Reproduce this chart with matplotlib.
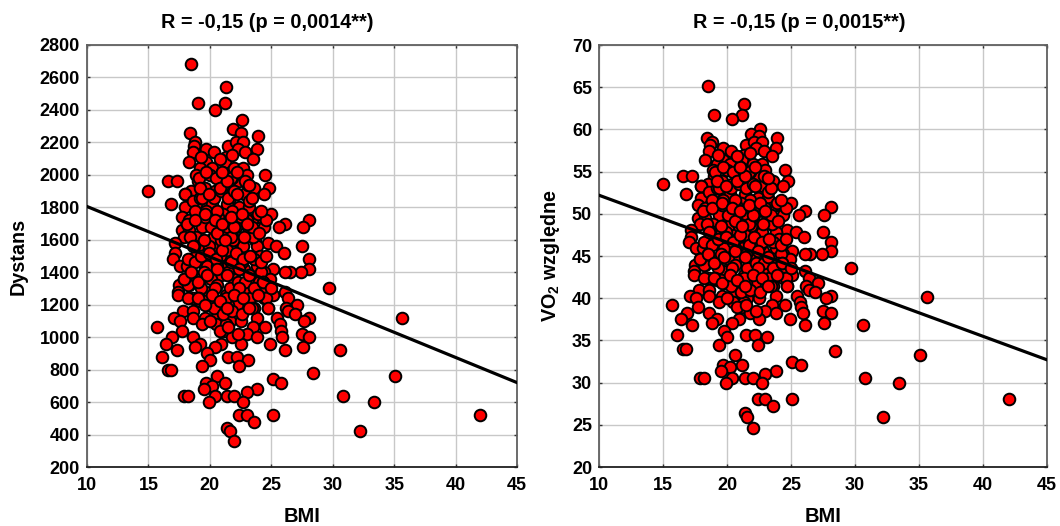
import matplotlib
matplotlib.use('Agg')
import matplotlib.pyplot as plt

plt.rcParams['font.family'] = ['Liberation Sans', 'DejaVu Sans']
plt.rcParams['font.weight'] = 'bold'
plt.rcParams['mathtext.fontset'] = 'custom'
plt.rcParams['mathtext.bf'] = 'Liberation Sans:bold'

# dane
bmi = [
    18.5, 21.3, 19.0, 21.2, 20.4, 22.6, 21.9, 22.5, 18.4, 23.9,
    18.8, 18.7, 18.6, 19.7, 20.3, 21.5, 22.1, 22.7, 22.3, 23.8,
    22.9, 23.5, 18.3, 21.3, 21.2, 19.7, 19.2, 20.2, 22.0, 22.7,
    24.5, 23.0, 18.9, 16.6, 17.3, 15.0, 19.0, 20.9, 22.4, 19.6,
    20.4, 18.5, 18.0, 23.6, 24.8, 24.4, 22.8, 21.6, 16.8, 19.6,
    18.0, 18.9, 20.2, 21.4, 22.4, 23.2, 21.8, 21.1, 18.9, 20.5,
    17.7, 25.0, 23.8, 23.4, 26.1, 25.6, 28.1, 27.6, 19.4, 21.3,
    24.4, 20.7, 17.7, 18.3, 17.9, 18.9, 20.0, 23.2, 23.7, 22.1,
    17.2, 24.7, 25.4, 26.0, 27.5, 28.1, 17.2, 20.7, 21.4, 22.7,
    23.8, 21.9, 17.0, 17.6, 18.4, 19.4, 19.9, 21.4, 22.3, 23.8,
    25.1, 28.1, 27.4, 26.5, 26.1, 24.4, 20.9, 18.7, 19.2, 20.1,
    22.0, 23.7, 24.9, 17.5, 18.3, 20.6, 19.7, 17.4, 17.4, 23.1,
    24.5, 25.1, 26.1, 26.4, 27.1, 18.6, 18.2, 21.3, 21.8, 23.3,
    24.4, 19.2, 19.8, 22.2, 21.5, 21.2, 23.6, 24.7, 26.2, 26.4,
    26.9, 17.8, 18.6, 17.1, 17.6, 18.6, 19.6, 20.5, 21.6, 22.5,
    23.8, 25.5, 25.7, 28.1, 27.7, 19.4, 20.5, 21.3, 15.7, 17.7,
    21.2, 23.5, 24.5, 25.8, 23.0, 25.9, 27.5, 28.1, 16.9, 18.6,
    21.8, 23.8, 16.4, 19.2, 20.9, 22.5, 24.9, 18.8, 20.4, 27.6,
    17.3, 26.1, 19.8, 16.1, 21.5, 22.2, 23.1, 20.0, 22.4, 19.4,
    16.6, 16.8, 28.4, 20.6, 25.1, 25.8, 19.7, 21.2, 20.2, 19.5,
    23.8, 23.0, 17.9, 18.2, 20.4, 21.4, 22.0, 19.9, 22.7, 22.4,
    23.0, 25.1, 23.6, 21.4, 21.6, 22.0, 29.7, 35.6, 30.6, 30.8,
    33.4, 32.2, 35.1, 42.0, 18.1, 18.9, 19.3, 19.8, 20.3, 20.8,
    21.2, 21.7, 22.2, 22.8, 23.3, 24.1, 18.5, 19.0, 19.5, 20.1,
    20.6, 21.0, 21.5, 22.1, 22.6, 23.1, 23.6, 24.2, 18.2, 18.7,
    19.3, 19.9, 20.4, 20.9, 21.6, 22.3, 22.9, 23.5, 24.0, 17.9,
    18.4, 19.1, 19.6, 20.2, 20.7, 21.3, 21.9, 22.4, 23.0, 23.6,
    24.3, 18.0, 18.6, 19.2, 19.7, 20.3, 20.9, 21.5, 22.0, 22.6,
    23.2, 23.9, 18.3, 18.8, 19.4, 20.0, 20.6, 21.1, 21.8, 22.5,
    23.1, 19.1, 19.7, 20.5, 21.0, 21.7, 22.2, 22.9, 23.4, 19.5,
    20.3, 21.1, 21.8, 22.6, 23.4, 20.0, 20.8, 21.5, 22.3, 24.6,
    18.2, 18.8, 19.3, 19.9, 20.5, 21.0, 21.7, 22.1, 22.7, 23.3,
    24.2, 24.6, 18.6, 19.5, 20.6, 21.2, 22.0, 22.8, 23.4, 24.0,
    18.1, 18.8, 19.6, 20.4, 21.0, 21.7, 22.6, 23.0, 24.6, 24.2,
    19.0, 19.6, 20.2, 20.8, 21.4, 22.0, 22.7, 23.2, 23.9, 24.7,
    17.9, 18.5, 19.0, 19.8, 20.6, 21.4, 22.4, 23.2, 24.3, 25.0,
    19.2, 19.9, 20.8, 21.4, 22.2, 23.2, 21.0, 20.8, 21.8, 19.3,
]
dystans = [
    2680, 2540, 2440, 2440, 2400, 2340, 2280, 2260, 2260, 2240,
    2200, 2180, 2140, 2160, 2140, 2180, 2200, 2200, 2160, 2160,
    2140, 2100, 2080, 2110, 2080, 2080, 2040, 2040, 2040, 2040,
    2000, 2000, 2000, 1960, 1960, 1900, 1960, 1960, 1960, 1920,
    1900, 1900, 1880, 1920, 1920, 1880, 1880, 1860, 1820, 1840,
    1800, 1820, 1820, 1820, 1800, 1800, 1780, 1760, 1760, 1760,
    1740, 1760, 1740, 1720, 1700, 1680, 1720, 1680, 1680, 1680,
    1680, 1680, 1660, 1660, 1620, 1620, 1600, 1640, 1600, 1600,
    1580, 1580, 1560, 1520, 1560, 1480, 1520, 1560, 1540, 1560,
    1560, 1600, 1480, 1440, 1480, 1460, 1500, 1540, 1480, 1440,
    1420, 1420, 1400, 1400, 1400, 1400, 1380, 1360, 1360, 1360,
    1360, 1360, 1360, 1320, 1320, 1320, 1280, 1280, 1260, 1280,
    1280, 1260, 1280, 1240, 1200, 1240, 1240, 1260, 1240, 1240,
    1240, 1220, 1200, 1200, 1200, 1160, 1180, 1180, 1180, 1160,
    1140, 1160, 1160, 1120, 1100, 1120, 1120, 1120, 1100, 1100,
    1120, 1120, 1080, 1120, 1100, 1080, 1080, 1080, 1060, 1040,
    1040, 1060, 1060, 1040, 1020, 1000, 1020, 1000, 1000, 1000,
    1000, 1000, 960, 960, 960, 960, 960, 940, 940, 940,
    920, 920, 900, 880, 880, 880, 860, 860, 820, 820,
    800, 800, 780, 760, 740, 720, 720, 720, 700, 680,
    680, 660, 640, 640, 640, 640, 640, 600, 600, 520,
    520, 520, 480, 440, 420, 360, 1300, 1120, 920, 640,
    600, 420, 760, 520, 1440, 1500, 1560, 1440, 1620, 1500,
    1440, 1620, 1500, 1420, 1640, 1500, 1400, 1560, 1400, 1680,
    1440, 1620, 1400, 1680, 1460, 1680, 1480, 1400, 1320, 1560,
    1300, 1560, 1300, 1600, 1300, 1340, 1340, 1620, 1340, 1360,
    1620, 1240, 1740, 1240, 1740, 1240, 1720, 1300, 1720, 1300,
    1340, 1880, 1840, 1860, 1780, 1860, 1900, 1860, 1900, 1740,
    1840, 1760, 1720, 1780, 1860, 2000, 1780, 1940, 1980, 1740,
    1940, 1980, 2020, 1980, 2020, 1980, 2020, 1960, 1860, 1220,
    1180, 1140, 1160, 1140, 1180, 1100, 1040, 1060, 1020, 1240,
    1480, 1460, 1500, 1520, 1480, 1540, 1460, 1520, 1480, 1500,
    1460, 1500, 1560, 1600, 1640, 1600, 1680, 1620, 1680, 1640,
    1700, 1720, 1760, 1720, 1700, 1740, 1760, 1700, 1720, 1780,
    1240, 1200, 1260, 1220, 1180, 1260, 1240, 1180, 1260, 1180,
    1360, 1400, 1340, 1380, 1420, 1380, 1420, 1380, 1340, 1300,
    1920, 1880, 1920, 1960, 1880, 1940, 2020, 2100, 2120, 2110,
]
vo2 = [
    65.1, 63.0, 61.7, 61.7, 61.2, 60.1, 59.5, 59.2, 59.0, 59.0,
    58.5, 58.1, 57.5, 57.8, 57.5, 58.1, 58.5, 58.5, 57.8, 57.8,
    57.5, 56.8, 56.4, 57.0, 56.4, 56.4, 55.9, 55.9, 55.9, 55.9,
    55.2, 55.2, 55.2, 54.5, 54.5, 53.5, 54.5, 54.5, 54.5, 53.9,
    53.5, 53.5, 53.3, 53.9, 53.9, 53.3, 53.3, 53.0, 52.3, 52.6,
    51.9, 52.3, 52.3, 52.3, 51.9, 51.9, 51.6, 51.3, 51.3, 51.3,
    51.0, 51.3, 51.0, 50.7, 50.3, 49.9, 50.8, 49.9, 49.9, 49.9,
    49.9, 49.9, 49.5, 49.5, 48.8, 48.8, 48.5, 49.1, 48.5, 48.5,
    48.1, 48.1, 47.8, 47.2, 47.8, 46.6, 47.2, 47.8, 47.5, 47.8,
    47.8, 48.5, 46.6, 46.0, 46.6, 46.3, 47.0, 47.5, 46.6, 46.0,
    45.6, 45.6, 45.2, 45.2, 45.2, 45.2, 44.9, 44.6, 44.6, 44.6,
    44.6, 44.6, 44.6, 43.9, 43.9, 43.9, 43.2, 43.2, 42.8, 43.2,
    43.2, 42.8, 43.2, 42.4, 41.8, 42.4, 42.4, 42.8, 42.4, 42.4,
    42.4, 42.1, 41.8, 41.8, 41.8, 41.0, 41.4, 41.4, 41.4, 41.0,
    40.7, 41.0, 41.0, 40.3, 40.0, 40.3, 40.3, 40.3, 40.0, 40.0,
    40.3, 40.3, 39.6, 40.3, 40.0, 39.6, 39.6, 39.6, 39.2, 39.0,
    39.0, 39.2, 39.2, 39.0, 38.5, 38.2, 38.5, 38.2, 38.2, 38.2,
    38.2, 38.2, 37.5, 37.5, 37.5, 37.5, 37.5, 37.1, 37.1, 37.1,
    36.8, 36.8, 36.1, 35.6, 35.6, 35.6, 35.4, 35.4, 34.4, 34.4,
    34.0, 34.0, 33.7, 33.3, 32.4, 32.1, 32.1, 32.1, 31.9, 31.4,
    31.4, 31.0, 30.6, 30.6, 30.6, 30.6, 30.6, 29.9, 29.9, 28.0,
    28.0, 28.0, 27.2, 26.4, 25.9, 24.6, 43.6, 40.2, 36.8, 30.6,
    29.9, 25.9, 33.3, 28.0, 46.0, 47.0, 47.8, 46.0, 48.8, 47.0,
    46.0, 48.8, 47.0, 45.6, 49.1, 47.0, 45.2, 47.8, 45.2, 49.9,
    46.0, 48.8, 45.2, 49.9, 46.3, 49.9, 46.6, 45.2, 43.9, 47.8,
    43.6, 47.8, 43.6, 48.5, 43.6, 44.2, 44.2, 48.8, 44.2, 44.6,
    48.8, 42.4, 51.0, 42.4, 51.0, 42.4, 50.7, 43.6, 50.7, 43.6,
    44.2, 53.3, 52.6, 53.0, 51.6, 53.0, 53.5, 53.0, 53.5, 51.0,
    52.6, 51.3, 50.7, 51.6, 53.0, 55.2, 51.6, 54.2, 54.9, 51.0,
    54.2, 54.9, 55.5, 54.9, 55.5, 54.9, 55.5, 54.5, 53.0, 42.1,
    41.4, 40.7, 41.0, 40.7, 41.4, 40.0, 39.0, 39.2, 38.5, 42.4,
    46.6, 46.3, 47.0, 47.2, 46.6, 47.5, 46.3, 47.2, 46.6, 47.0,
    46.3, 47.0, 47.8, 48.5, 49.1, 48.5, 49.9, 48.8, 49.9, 49.1,
    50.3, 50.7, 51.3, 50.7, 50.3, 51.0, 51.3, 50.3, 50.7, 51.6,
    42.4, 41.8, 42.8, 42.1, 41.4, 42.8, 42.4, 41.4, 42.8, 41.4,
    44.6, 45.2, 44.2, 44.9, 45.6, 44.9, 45.6, 44.9, 44.2, 43.6,
    53.9, 53.3, 53.9, 54.5, 53.3, 54.2, 55.5, 56.8, 57.2, 57.0,
]
fit_x = [10, 45]
fit_dystans = [1805, 720]
fit_vo2 = [52.2, 32.7]

x_ticks = [10, 15, 20, 25, 30, 35, 40, 45]
dystans_ticks = list(range(200, 2801, 200))
vo2_ticks = list(range(20, 71, 5))

W, H = 1060, 526


def panel(ax, y, fit_y, y_ticks, title, title_x, ylabel, ylabel_x):
    ax.set_axisbelow(True)
    ax.grid(True, color='#c8c8c8', linewidth=1.0)
    ax.scatter(bmi, y, s=70, c='red', edgecolors='black', linewidths=1.4,
               zorder=3, clip_on=True)
    ax.plot(fit_x, fit_y, color='black', linewidth=2.3, zorder=4)
    ax.set_xlim(x_ticks[0], x_ticks[-1])
    ax.set_ylim(y_ticks[0], y_ticks[-1])
    ax.set_xticks(x_ticks)
    ax.set_yticks(y_ticks)
    ax.tick_params(direction='in', top=True, right=True, length=2.5, width=1,
                   color='#303030', labelsize=13)
    ax.tick_params(axis='x', pad=7)
    ax.tick_params(axis='y', pad=5)
    for s in ax.spines.values():
        s.set_color('#606060')
        s.set_linewidth(1.3)
    ax.spines['bottom'].set_color('#202020')
    # tytul nie jest nad srodkiem osi
    fig.text(title_x / W, 1 - 22 / H, title, fontsize=14.3, fontweight='bold',
             ha='center', va='center')
    ax.set_xlabel('BMI', fontsize=14.5, fontweight='bold', va='top')
    ax.xaxis.set_label_coords(0.5, -40 / 422)
    ax.set_ylabel(ylabel, fontsize=14.2, fontweight='bold', va='center')
    ax.yaxis.set_label_coords(ylabel_x, 0.5)


fig = plt.figure(figsize=(W / 100, H / 100), dpi=100)
ax1 = fig.add_axes([87 / W, 1 - 467 / H, 430 / W, 422 / H])
ax2 = fig.add_axes([599 / W, 1 - 467 / H, 448 / W, 422 / H])

panel(ax1, dystans, fit_dystans, dystans_ticks,
      'R = -0,15 (p = 0,0014**)', 267, 'Dystans', -69 / 430)
panel(ax2, vo2, fit_vo2, vo2_ticks,
      'R = -0,15 (p = 0,0015**)', 799, r'VO$_{\mathbf{2}}$ względne', -49 / 448)

assert len(bmi) == len(dystans) == len(vo2)
fig.savefig('out.png', dpi=100)
